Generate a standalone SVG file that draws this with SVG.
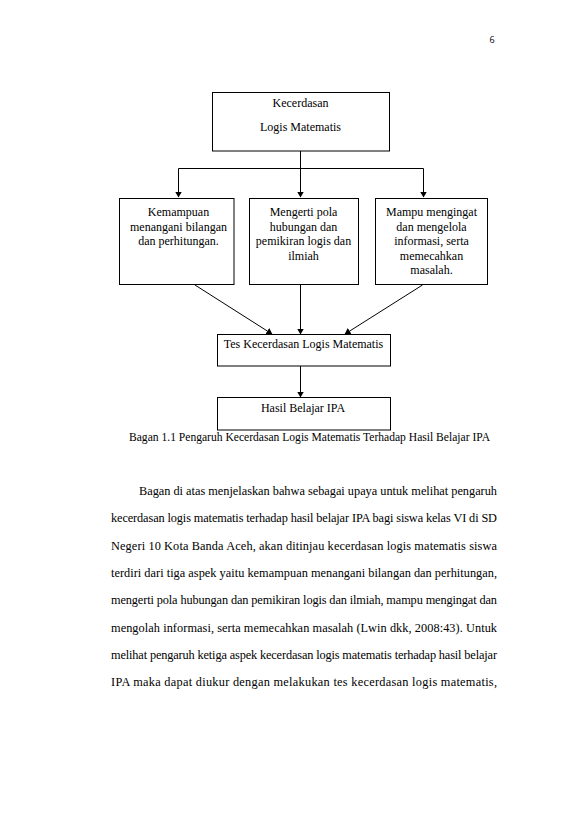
<svg xmlns="http://www.w3.org/2000/svg" width="579" height="819" viewBox="0 0 579 819">
<style>
.box{fill:#fff;stroke:#000;stroke-width:1}
.t{font-family:"Liberation Serif","Times New Roman",serif;font-size:12px;fill:#000;text-anchor:middle}
.b{font-family:"Liberation Serif","Times New Roman",serif;font-size:12.3px;fill:#000}
.c{stroke:#000;stroke-width:1;fill:none}
</style>
<defs>
<marker id="ah" markerWidth="6" markerHeight="7" refX="5.5" refY="3.5" orient="auto" markerUnits="userSpaceOnUse">
<path d="M0,0 L6,3.5 L0,7 z" fill="#000"/>
</marker>
</defs>
<rect width="579" height="819" fill="#fff"/>
<text x="492" y="43" font-family="Open Sans, Liberation Sans, sans-serif" font-size="9" text-anchor="middle">6</text>

<g id="connectors">
<line class="c" x1="300.5" y1="151" x2="300.5" y2="168.5"/>
<line class="c" x1="178.5" y1="168.5" x2="423.5" y2="168.5"/>
<line class="c" x1="178.5" y1="168.5" x2="178.5" y2="197" marker-end="url(#ah)"/>
<line class="c" x1="300.5" y1="168.5" x2="300.5" y2="197" marker-end="url(#ah)"/>
<line class="c" x1="423.5" y1="168.5" x2="423.5" y2="197" marker-end="url(#ah)"/>
<line class="c" x1="195" y1="285" x2="272" y2="334" marker-end="url(#ah)"/>
<line class="c" x1="300.5" y1="285" x2="300.5" y2="334" marker-end="url(#ah)"/>
<line class="c" x1="422.5" y1="285" x2="345" y2="334" marker-end="url(#ah)"/>
<line class="c" x1="300.5" y1="366" x2="300.5" y2="397" marker-end="url(#ah)"/>
</g>

<g id="node-top">
<rect class="box" x="212.5" y="92.5" width="177" height="58.5"/>
<text class="t" x="300.5" y="107">Kecerdasan</text>
<text class="t" x="300.5" y="131">Logis Matematis</text>
</g>
<g id="node-left">
<rect class="box" x="119.5" y="198.5" width="114.5" height="86"/>
<text class="t" x="178.5" y="216">Kemampuan</text>
<text class="t" x="178.5" y="230.5">menangani bilangan</text>
<text class="t" x="178.5" y="245">dan perhitungan.</text>
</g>
<g id="node-mid">
<rect class="box" x="249.5" y="198.5" width="109" height="86"/>
<text class="t" x="303.5" y="216">Mengerti pola</text>
<text class="t" x="303.5" y="230.5">hubungan dan</text>
<text class="t" x="303.5" y="245">pemikiran logis dan</text>
<text class="t" x="303.5" y="259.5">ilmiah</text>
</g>
<g id="node-right">
<rect class="box" x="375.5" y="198.5" width="112" height="86"/>
<text class="t" x="431.5" y="216">Mampu mengingat</text>
<text class="t" x="431.5" y="230.5">dan mengelola</text>
<text class="t" x="431.5" y="245">informasi, serta</text>
<text class="t" x="431.5" y="259.5">memecahkan</text>
<text class="t" x="431.5" y="274">masalah.</text>
</g>
<g id="node-tes">
<rect class="box" x="217.5" y="334.5" width="173" height="31.5"/>
<text class="t" x="303.5" y="348">Tes Kecerdasan Logis Matematis</text>
</g>
<g id="node-hasil">
<rect class="box" x="217.5" y="397.5" width="173" height="32.5"/>
<text class="t" x="303" y="412">Hasil Belajar IPA</text>
</g>

<text class="t" x="309.5" y="441" textLength="361" lengthAdjust="spacingAndGlyphs">Bagan 1.1 Pengaruh Kecerdasan Logis Matematis Terhadap Hasil Belajar IPA</text>

<g id="body">
<text class="b" x="139" y="495" textLength="358" lengthAdjust="spacing">Bagan di atas menjelaskan bahwa sebagai upaya untuk melihat pengaruh</text>
<text class="b" x="111" y="522.3" textLength="386" lengthAdjust="spacing">kecerdasan logis matematis terhadap hasil belajar IPA bagi siswa kelas VI di SD</text>
<text class="b" x="111" y="549.6" textLength="386" lengthAdjust="spacing">Negeri 10 Kota Banda Aceh, akan ditinjau kecerdasan logis matematis siswa</text>
<text class="b" x="111" y="576.9" textLength="386" lengthAdjust="spacing">terdiri dari tiga aspek yaitu kemampuan menangani bilangan dan perhitungan,</text>
<text class="b" x="111" y="604.2" textLength="386" lengthAdjust="spacing">mengerti pola hubungan dan pemikiran logis dan ilmiah, mampu mengingat dan</text>
<text class="b" x="111" y="631.5" textLength="386" lengthAdjust="spacing">mengolah informasi, serta memecahkan masalah (Lwin dkk, 2008:43). Untuk</text>
<text class="b" x="111" y="658.8" textLength="386" lengthAdjust="spacing">melihat pengaruh ketiga aspek kecerdasan logis matematis terhadap hasil belajar</text>
<text class="b" x="111" y="686" textLength="386" lengthAdjust="spacing">IPA maka dapat diukur dengan melakukan tes kecerdasan logis matematis,</text>
</g>
</svg>
